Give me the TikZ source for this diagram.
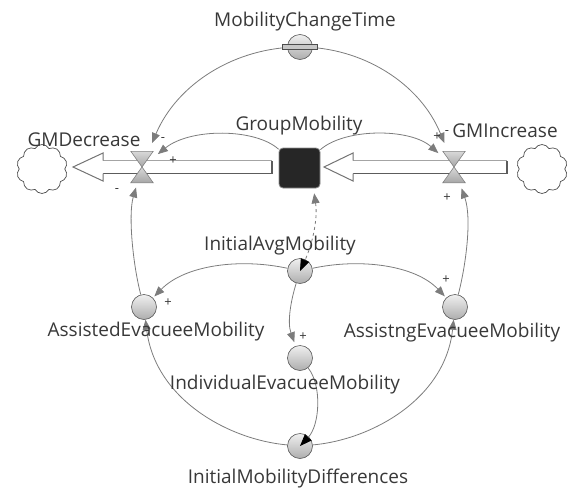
\documentclass[tikz,border=0pt]{standalone}
\usepackage{fontspec}
\setmainfont{Open Sans}
\usetikzlibrary{arrows.meta,shapes.symbols,calc}
\definecolor{lnk}{HTML}{7C7C7C}
\definecolor{txt}{HTML}{383838}
\definecolor{pipetop}{HTML}{A4A4A4}
\definecolor{pipebot}{HTML}{5C5C5C}
\definecolor{stockfill}{HTML}{262626}
\pgfdeclarelayer{bg}
\pgfsetlayers{bg,main}
\begin{document}
\begin{tikzpicture}[x=1pt,y=-1pt,
  lbl/.style={font=\fontsize{19}{22}\selectfont, text=txt, anchor=base, inner sep=0pt},
  pol/.style={font=\fontsize{13}{15}\selectfont, text=txt, inner sep=0pt},
  aux/.style={circle, minimum size=25pt, inner sep=0pt, draw=black!65, line width=0.6pt,
              top color=black!6, bottom color=black!32},
  valvebox/.style={minimum width=22pt, minimum height=31pt, inner sep=0pt},
  valvepart/.style={draw=black!50, line width=0.6pt, top color=black!15, bottom color=black!35},
  cloudy/.style={cloud, cloud puffs=10, cloud puff arc=120, cloud ignores aspect, draw=black!70,
                 fill=white, line width=0.7pt, minimum width=51pt, minimum height=49pt, inner sep=0pt},
  stockbox/.style={rectangle, rounded corners=4pt, minimum width=41pt, minimum height=40pt,
                   inner sep=0pt, fill=stockfill, draw=black!45, line width=0.8pt},
  link/.style={draw=lnk, line width=0.8pt, -{Triangle[length=10pt,width=8pt]}},
  initlink/.style={draw=lnk, line width=0.8pt, -{Triangle[length=12pt,width=9pt,color=black]}},
  pipeedge/.style={line width=1.1pt},
  pipehead/.style={fill=white, draw=black!55, line width=1pt, line join=miter}
]
\useasboundingbox (0,0) rectangle (573,490);

% ---- stock, valves, clouds
\node[stockbox] (stock) at (299.5,168) {};
\node[valvebox] (vdec) at (142,167) {};
\node[valvebox] (vinc) at (454,167) {};
\node[cloudy] (cloudL) at (42,169) {};
\node[cloudy] (cloudR) at (542,169) {};

% ---- auxiliaries and constant
\node[aux] (mct) at (300,47) {};
\node[aux] (iam) at (300,271) {};
\node[aux] (aem) at (144,307) {};
\node[aux] (aeam) at (455,307) {};
\node[aux] (iem) at (300,358) {};
\node[aux] (imd) at (300,446) {};
\draw[fill=black!22, draw=black!70, line width=0.6pt]
  ($(mct)+(-18,-2.5)$) rectangle ($(mct)+(17,2.5)$);

% ---- flow pipes
\coordinate (decEnd) at (272,167);
\coordinate (decTip) at (73,167);
\coordinate (incEnd) at (507,167);
\coordinate (incTip) at (324,167);
\begin{pgfonlayer}{bg}
  % outflow: GroupMobility -> cloud
  \fill[white] ($(decTip)+(30,-6.5)$) rectangle ($(decEnd)+(0,6.5)$);
  \draw[pipeedge, pipetop] ($(decTip)+(30,-6.5)$) -- ($(decEnd)+(0,-6.5)$);
  \draw[pipeedge, pipebot] ($(decTip)+(30,6.5)$) -- ($(decEnd)+(0,6.5)$) -- ($(decEnd)+(0,-6.5)$);
  \filldraw[pipehead] ($(decTip)+(30,-6.5)$) -- ($(decTip)+(30,-14)$) -- (decTip)
     -- ($(decTip)+(30,14)$) -- ($(decTip)+(30,6.5)$);
  % inflow: cloud -> GroupMobility
  \fill[white] ($(incTip)+(29,-6.5)$) rectangle ($(incEnd)+(0,6.5)$);
  \draw[pipeedge, pipetop] ($(incTip)+(29,-6.5)$) -- ($(incEnd)+(0,-6.5)$);
  \draw[pipeedge, pipebot] ($(incTip)+(29,6.5)$) -- ($(incEnd)+(0,6.5)$) -- ($(incEnd)+(0,-6.5)$);
  \filldraw[pipehead] ($(incTip)+(29,-6.5)$) -- ($(incTip)+(29,-14)$) -- (incTip)
     -- ($(incTip)+(29,14)$) -- ($(incTip)+(29,6.5)$);

  % ---- links
  \draw[link, shorten >=9pt] (mct.center) .. controls (235,47) and (177,84) .. (vdec);
  \draw[link, shorten >=9pt] (mct.center) .. controls (362,47) and (420,83) .. (vinc);
  \draw[link, shorten >=6pt] (stock) .. controls (255,128) and (190,128) .. (vdec);
  \draw[link, shorten >=6pt] (stock) .. controls (345,128) and (410,128) .. (vinc);
  \draw[link, shorten >=5pt] (aem) .. controls (133,265) and (128,215) .. (vdec);
  \draw[link, shorten >=6pt] (aeam) .. controls (466,265) and (472,218) .. (vinc);
  \draw[link] (imd) .. controls (230,440) and (155,400) .. (aem);
  \draw[link] (imd) .. controls (370,440) and (445,400) .. (aeam);
  \draw[link, shorten >=2pt] (iam) .. controls (240,258) and (185,265) .. (aem);
  \draw[link, shorten >=2pt] (iam) .. controls (360,258) and (415,265) .. (aeam);
  \draw[link, shorten >=4pt] (iam) .. controls (291,300) and (287,322) .. (iem);
\end{pgfonlayer}

% ---- valve glyphs
\foreach \v in {vdec,vinc}{
  \path[valvepart] (\v.north west) -- (\v.north east) -- (\v.center) -- cycle;
  \path[valvepart] (\v.south west) -- (\v.south east) -- (\v.center) -- cycle;
}

% ---- initial-value links
\draw[initlink] (iem) .. controls (322,385) and (320,425) .. (imd.center);
\draw[initlink, dashed, {Triangle[length=10pt,width=8pt]}-{Triangle[length=12pt,width=9pt,color=black]},
      shorten <=5pt] ([xshift=14pt]stock.south) .. controls (318,220) and (312,245) .. (iam.center);

% ---- labels
\node[lbl] (tMCT) at (305,26) {MobilityChangeTime};
\node[lbl] (tGM) at (299,130) {GroupMobility};
\node[lbl] (tGMD) at (84,146) {GMDecrease};
\node[lbl] (tGMI) at (505,137) {GMIncrease};
\node[lbl] (tIAM) at (280,250) {InitialAvgMobility};
\node[lbl] (tAEM) at (156,336) {AssistedEvacueeMobility};
\node[lbl] (tAEAM) at (452,337) {AssistngEvacueeMobility};
\node[lbl] (tIEM) at (285,389) {IndividualEvacueeMobility};
\node[lbl] (tIMD) at (298,483) {InitialMobilityDifferences};

% ---- polarities
\node[pol] (s1) at (163,140) {-};
\node[pol] (s2) at (173,161) {+};
\node[pol] (s3) at (117,191) {-};
\node[pol] (s4) at (437,137) {+};
\node[pol] (s5) at (447,133) {-};
\node[pol] (s6) at (447,198) {+};
\node[pol] (s7) at (168,303) {+};
\node[pol] (s8) at (303,337) {+};
\node[pol] (s9) at (446,280) {+};
\end{tikzpicture}
\end{document}
